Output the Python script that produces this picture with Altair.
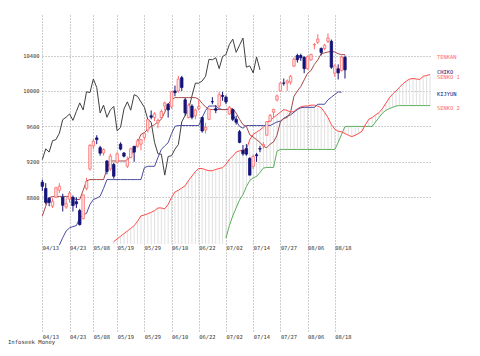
import altair as alt
import pandas as pd

# ---- daily candles (trading-day index 0 = 04/13) ----
opens = [8970, 8900, 8790, 8700, 8800, 8880, 8800, 8690, 8780, 8800, 8750, 8650, 8560, 8900, 9120, 9380,
         9470, 9360, 9300, 9210, 9120, 9170, 9195, 9400, 9300, 9150, 9250, 9375, 9375, 9400, 9475, 9560,
         9720, 9700, 9640, 9700, 9830, 9850, 9820, 10000, 10000, 10150, 9900, 9700, 9830, 9720, 9800, 9700,
         9560, 9680, 9880, 9800, 9830, 9950, 9930, 9740, 9790, 9680, 9540, 9330, 9350, 9240, 9150, 9280,
         9350, 9380, 9500, 9660, 9760, 9900, 10000, 10090, 10090, 10100, 10280, 10400, 10400, 10380, 10250, 10350,
         10520, 10550, 10480, 10480, 10560, 10560, 10200, 10250, 10230, 10380]
highs = [9000, 8960, 8800, 8790, 8920, 8960, 8840, 8790, 8870, 8820, 8800, 8670, 8830, 9020, 9400, 9460,
         9500, 9380, 9350, 9220, 9290, 9190, 9310, 9420, 9310, 9260, 9360, 9380, 9460, 9460, 9530, 9680,
         9780, 9760, 9690, 9790, 9880, 9860, 10000, 10060, 10170, 10170, 9920, 9860, 9850, 9800, 9900, 9710,
         9640, 9800, 9930, 9840, 9990, 9990, 9950, 9830, 9800, 9720, 9560, 9390, 9400, 9250, 9280, 9300,
         9380, 9420, 9660, 9740, 9800, 9960, 10100, 10140, 10130, 10180, 10380, 10420, 10420, 10390, 10400, 10420,
         10540, 10640, 10490, 10530, 10650, 10580, 10300, 10300, 10400, 10400]
lows = [8870, 8720, 8700, 8680, 8790, 8850, 8640, 8670, 8740, 8640, 8680, 8480, 8550, 8880, 9100, 9340,
        9400, 9270, 9270, 9060, 9100, 9010, 9180, 9330, 9250, 9130, 9240, 9200, 9360, 9330, 9440, 9530,
        9680, 9660, 9580, 9680, 9780, 9700, 9800, 9940, 9980, 10000, 9720, 9690, 9680, 9680, 9780, 9530,
        9520, 9670, 9850, 9750, 9810, 9890, 9850, 9730, 9660, 9620, 9410, 9270, 9270, 9050, 9120, 9200,
        9310, 9350, 9500, 9650, 9700, 9880, 9990, 10060, 10000, 10070, 10270, 10320, 10340, 10200, 10240, 10340,
        10470, 10530, 10400, 10460, 10540, 10250, 10160, 10130, 10220, 10140]
closes = [8924, 8743, 8742, 8755, 8907, 8924, 8711, 8727, 8847, 8707, 8726, 8493, 8828, 8977, 9385, 9432,
          9451, 9298, 9340, 9093, 9265, 9038, 9290, 9344, 9264, 9225, 9347, 9310, 9438, 9451, 9522, 9677,
          9704, 9741, 9668, 9768, 9865, 9786, 9991, 9981, 10135, 10039, 9752, 9840, 9703, 9786, 9826, 9549,
          9590, 9796, 9877, 9783, 9958, 9939, 9876, 9816, 9680, 9647, 9420, 9291, 9287, 9050, 9261, 9269,
          9344, 9395, 9652, 9723, 9792, 9944, 10088, 10087, 10113, 10165, 10357, 10352, 10375, 10252, 10388, 10412,
          10524, 10585, 10435, 10517, 10597, 10268, 10284, 10204, 10383, 10238]

# ---- indicator lines (one value per trading day) ----
tenkan = [8590, 8700, 8795, 8810, 8810, 8810, 8810, 8810, 8810, 8790, 8775, 8775, 8880, 8985, 9000, 9000,
          9000, 9000, 9000, 9120, 9210, 9210, 9210, 9210, 9210, 9210, 9280, 9320, 9420, 9510, 9530, 9567,
          9600, 9620, 9650, 9680, 9760, 9850, 9900, 9925, 9925, 9925, 9925, 9925, 9925, 9925, 9906, 9860,
          9820, 9790, 9790, 9790, 9790, 9790, 9790, 9800, 9800, 9750, 9680, 9620, 9600, 9505, 9480, 9450,
          9420, 9375, 9360, 9400, 9425, 9500, 9650, 9690, 9700, 9760, 9940, 10000, 10050, 10125, 10200, 10230,
          10300, 10350, 10420, 10430, 10440, 10445, 10440, 10420, 10410, 10410]
kijun_start = 5
kijun = [8260, 8345, 8420, 8456, 8470, 8480, 8570, 8600, 8620, 8720, 8775, 8790, 8813, 8900, 9000,
         9000, 9000, 9000, 9000, 9000, 9000, 9000, 9000, 9000, 9000, 9134, 9150, 9150, 9150, 9250, 9340,
         9380, 9416, 9520, 9600, 9610, 9610, 9610, 9610, 9610, 9610, 9610, 9700, 9780, 9830, 9830, 9830,
         9800, 9790, 9790, 9790, 9740, 9660, 9600, 9580, 9610, 9610, 9610, 9610, 9610, 9610, 9610, 9610,
         9630, 9650, 9660, 9690, 9715, 9730, 9760, 9790, 9810, 9815, 9815, 9815, 9815, 9850, 9850, 9850,
         9900, 9930, 9960, 9990, 9985]
senko1_start = 21
senko1 = [8300, 8330, 8360, 8390, 8420, 8450, 8480, 8530, 8590, 8600, 8615, 8630, 8650, 8680, 8680, 8670,
          8720, 8800, 8860, 8880, 8905, 8930, 8990, 9040, 9090, 9125, 9125, 9110, 9100, 9100, 9115, 9125,
          9135, 9170, 9230, 9265, 9310, 9325, 9330, 9340, 9450, 9510, 9535, 9560, 9590, 9640, 9670, 9700,
          9730, 9760, 9790, 9780, 9760, 9770, 9800, 9820, 9830, 9830, 9840, 9840, 9830, 9810, 9760, 9700,
          9620, 9570, 9545, 9540, 9520, 9500, 9485, 9500, 9520, 9545, 9620, 9680, 9700, 9730, 9755, 9800,
          9860, 9920, 9965, 10000, 10040, 10080, 10110, 10135, 10140, 10135, 10130, 10165, 10175, 10185]
senko2_start = 54
senko2 = [8340, 8480, 8590, 8680, 8770, 8830, 8920, 8990, 9020, 9035, 9080, 9130, 9137, 9137, 9137, 9320,
          9340, 9340, 9340, 9340, 9340, 9340, 9340, 9340, 9340, 9340, 9340, 9340, 9340, 9340, 9340, 9340,
          9340, 9420, 9510, 9600, 9600, 9600, 9600, 9600, 9600, 9600, 9600, 9600, 9650, 9700, 9750, 9780,
          9800, 9815, 9830, 9835, 9835, 9835, 9835, 9835, 9835, 9835, 9835, 9835, 9835]
chiko_shift = 25

tick_pos = [0, 8, 15, 22, 30, 38, 46, 54, 62, 70, 78, 86]
tick_labels = ["04/13", "04/23", "05/08", "05/19", "05/29", "06/10", "06/22", "07/02", "07/14", "07/27", "08/06", "08/18"]
y_ticks = [8800, 9200, 9600, 10000, 10400]
legend_names = ["TENKAN", "CHIKO", "SENKO 1", "KIJYUN", "SENKO 2"]

# ---- styling ----
FONT = "DejaVu Sans Mono"
FS = 5.4
C_TENKAN = "#a84848"
C_KIJUN = "#4a4aa0"
C_SENKO1 = "#ff4c4c"
C_SENKO2 = "#5cae5c"
C_CHIKO = "#404040"
C_UP = "#ff6b6b"
C_UPFILL = "#ffe6e6"
C_DOWN = "#14147a"
C_HATCH = "#e0e0e0"
FLOOR = 8273  # bottom of the price panel
HALF = 0.36   # half candle width, in trading days

XS = alt.Scale(domain=[-0.1, 114], nice=False, zero=False, padding=0)
YS = alt.Scale(domain=[7269, 10857], nice=False, zero=False, padding=0)

# ---- data frames ----
cdf = pd.DataFrame({"i": list(range(len(closes))), "o": opens, "h": highs, "l": lows, "c": closes})
cdf["dir"] = ["up" if c >= o else "down" for o, c in zip(opens, closes)]

def series(name, start, vals):
    return pd.DataFrame({"i": [start + k for k in range(len(vals))], "v": vals, "s": name})

ten_df = series("TENKAN", 0, tenkan)
kij_df = series("KIJYUN", kijun_start, kijun)
s1_df = series("SENKO 1", senko1_start, senko1)
s2_df = series("SENKO 2", senko2_start, senko2)
chi_df = pd.DataFrame({"i": [k - chiko_shift for k in range(chiko_shift, len(closes))],
                       "v": closes[chiko_shift:], "s": "CHIKO"})

s2_map = dict(zip(s2_df["i"], s2_df["v"]))
hatch_df = pd.DataFrame({"i": s1_df["i"], "a": s1_df["v"],
                         "b": [s2_map.get(i, FLOOR) for i in s1_df["i"]]})

last_vals = [tenkan[-1], closes[-1], senko1[-1], kijun[-1], senko2[-1]]
leg_df = pd.DataFrame({"name": legend_names, "v": last_vals})
leg_colors = ["#993333", "#333333", "#ff3333", "#333399", "#339933"]

tick_df = pd.DataFrame({"i": tick_pos, "t": tick_labels})

label_expr = "[" + ",".join("'%s'" % t for t in tick_labels) + "][indexof([" + \
    ",".join(str(p) for p in tick_pos) + "], datum.value)]"

x_axis = alt.Axis(values=tick_pos, labelExpr=label_expr, grid=True, gridDash=[1, 2],
                  gridColor="#9a9a9a", gridWidth=1, ticks=False, domain=False,
                  labelAlign="left", labelPadding=1, labelFont=FONT, labelFontSize=FS,
                  labelColor="#333333", title=None, labelBaseline="top", labelFlush=False,
                  labelOverlap=False)
y_axis = alt.Axis(values=y_ticks, format="d", grid=True, gridDash=[1, 2], gridColor="#9a9a9a",
                  gridWidth=1, ticks=False, domain=False, labelPadding=3, labelFont=FONT,
                  labelFontSize=FS, labelColor="#333333", title=None, labelBaseline="middle")

X = alt.X("i:Q", scale=XS, axis=x_axis, title=None)

def Y(field):
    return alt.Y(field, scale=YS, axis=y_axis, title=None)

hatch = alt.Chart(hatch_df).mark_rule(color=C_HATCH, strokeWidth=1).encode(
    x=X, y=Y("a:Q"), y2="b:Q",
)

def line(df, color):
    return alt.Chart(df).mark_line(color=color, strokeWidth=1).encode(x=X, y=Y("v:Q"))

dir_scale_stroke = alt.Scale(domain=["up", "down"], range=[C_UP, C_DOWN])
dir_scale_fill = alt.Scale(domain=["up", "down"], range=[C_UPFILL, C_DOWN])

wicks = alt.Chart(cdf).mark_rule(strokeWidth=1).encode(
    x=X, y=Y("l:Q"), y2="h:Q",
    color=alt.Color("dir:N", scale=dir_scale_stroke, legend=None),
)
bodies = alt.Chart(cdf).transform_calculate(
    x0="datum.i - %s" % HALF, x1="datum.i + %s" % HALF
).mark_rect(strokeWidth=0.8).encode(
    x=alt.X("x0:Q", scale=XS, axis=x_axis, title=None), x2="x1:Q",
    y=Y("o:Q"), y2="c:Q",
    fill=alt.Fill("dir:N", scale=dir_scale_fill, legend=None),
    stroke=alt.Stroke("dir:N", scale=dir_scale_stroke, legend=None),
)

top_labels = alt.Chart(tick_df).mark_text(font=FONT, fontSize=FS, align="left", baseline="middle",
                                          color="#333333", dx=0.5).encode(
    x=X, y=alt.value(232.5), text="t:N",
)

legend = alt.Chart(leg_df).mark_text(font=FONT, fontSize=FS, align="left", baseline="middle", dy=2).encode(
    x=alt.value(395), y=Y("v:Q"), text="name:N",
    color=alt.Color("name:N", scale=alt.Scale(domain=legend_names, range=leg_colors), legend=None),
)

credit = alt.Chart(pd.DataFrame({"t": ["Infoseek Money"]})).mark_text(
    font=FONT, fontSize=FS + 0.2, align="left", baseline="middle", color="#333333").encode(
    x=alt.value(-34), y=alt.value(326.5), text="t:N")

chart = alt.layer(
    hatch,
    line(s2_df, C_SENKO2), line(s1_df, C_SENKO1),
    line(chi_df, C_CHIKO), line(kij_df, C_KIJUN), line(ten_df, C_TENKAN),
    wicks, bodies, top_labels, legend, credit,
).properties(
    width=388, height=318, autosize="none", background="white",
    padding={"left": 34, "top": 7, "right": 40, "bottom": 12},
).configure_view(stroke="transparent", strokeWidth=0)

chart.save("out.html", embed_options={"renderer": "svg", "actions": False})
